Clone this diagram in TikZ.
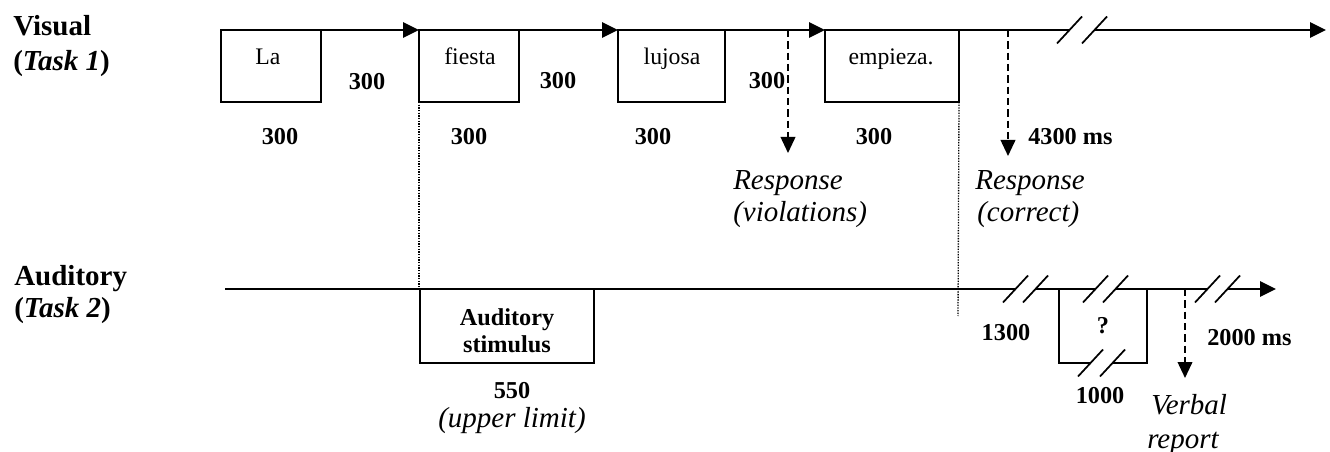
\documentclass[tikz,border=0pt]{standalone}
\usepackage{fontspec}
\setmainfont{Liberation Serif}
\usetikzlibrary{arrows.meta,calc}
\begin{document}
\begin{tikzpicture}[x=0.75pt,y=-0.75pt,
  tl/.style={line width=1.5pt},
  tlarrow/.style={line width=1.5pt,-{Triangle[length=12pt,width=11.5pt]}},
  dasharrow/.style={line width=1.3pt,dash pattern=on 5.5pt off 3pt,-{Triangle[length=12pt,width=11pt]}},
  dotline/.style={line width=1pt,dash pattern=on 1pt off 1pt},
  wordbox/.style={draw,line width=1.5pt,anchor=north west,minimum height=54pt,inner sep=0pt,outer sep=0pt},
  word/.style={font=\fontsize{17.8}{20}\selectfont,anchor=base,inner sep=0pt},
  num/.style={font=\fontsize{18.2}{20}\selectfont\bfseries,anchor=base,inner sep=0pt},
  note/.style={font=\fontsize{21.75}{24}\selectfont\itshape,anchor=base west,inner sep=0pt},
  head/.style={font=\fontsize{21.75}{26}\selectfont\bfseries,anchor=base west,inner sep=0pt},
  brk/.style={line width=1.3pt},
]
\useasboundingbox (0,0) rectangle (1330,452);

% headers
\node[head] (vis) at (13,36) {Visual};
\node[head] (task1) at (13,71) {(\textit{Task 1})};
\node[head] (aud) at (14,285) {Auditory};
\node[head] (task2) at (14,317) {(\textit{Task 2})};

% visual boxes
\node[wordbox,minimum width=75pt] (La) at (221,30) {};
\node[wordbox,minimum width=75pt] (fiesta) at (419,30) {};
\node[wordbox,minimum width=80.25pt] (lujosa) at (618,30) {};
\node[wordbox,minimum width=100.5pt] (empieza) at (825,30) {};

\node[word] (tLa) at (268,65) {La};
\node[word] (tfiesta) at (470,65) {fiesta};
\node[word] (tlujosa) at (672,65) {lujosa};
\node[word] (tempieza) at (891,65) {empieza.};

% visual timeline
\draw[tlarrow] (La.north east) -- (fiesta.north west);
\draw[tlarrow] (fiesta.north east) -- (lujosa.north west);
\draw[tlarrow] (lujosa.north east) -- (empieza.north west);
\coordinate (vb1) at (1069.5,30);
\coordinate (vb2) at (1094.5,30);
\coordinate (vend) at (1326,30);
\draw[tl] (empieza.north east) -- (vb1);
\draw[tlarrow] (vb2) -- (vend);
\foreach \c in {vb1,vb2} {
  \draw[brk] ($(\c)+(-12.5,13.5)$) -- ($(\c)+(12.5,-13.5)$);
}

% visual labels
\node[num] (g1) at (367,90) {300};
\node[num] (g2) at (558,89) {300};
\node[num] (g3) at (767,89) {300};
\node[num] (d1) at (280,145) {300};
\node[num] (d2) at (469,145) {300};
\node[num] (d3) at (653,145) {300};
\node[num] (d4) at (874,145) {300};
\node[num,anchor=base west] (t4300) at (1028,145) {4300 ms};

% responses
\coordinate (r1s) at (788,30);
\coordinate (r1e) at (788,153);
\coordinate (r2s) at (1008,30);
\coordinate (r2e) at (1008,156);
\draw[dasharrow] (r1s) -- (r1e);
\draw[dasharrow] (r2s) -- (r2e);
\node[note] (resp1) at (733,190) {Response};
\node[note] (viol) at (733,222) {(violations)};
\node[note] (resp2) at (975,190) {Response};
\node[note] (corr) at (977,222) {(correct)};

% auditory timeline
\coordinate (a0) at (225,289);
\coordinate (aend) at (1276,289);
\draw[tlarrow] (a0) -- (aend);
\node[wordbox,minimum width=130.5pt,minimum height=55.5pt] (stim) at (420,289) {};
\node[num] (tAud) at (507,325) {Auditory};
\node[num] (tStim) at (507,352) {stimulus};
\node[num] (n550) at (512,398) {550};
\node[note,anchor=base] (upper) at (512,427) {(upper limit)};

\node[wordbox,minimum width=66pt,minimum height=55.5pt,font=\fontsize{18.2}{20}\selectfont\bfseries] (qbox) at (1059,289) {?};

% breaks on auditory line and ? box
\foreach \xa/\xb/\yy in {1015.5/1035.5/289, 1095.5/1115.5/289, 1090.5/1112.5/363, 1207.5/1227.5/289} {
  \fill[white] (\xa,\yy-3) rectangle (\xb,\yy+3);
  \draw[brk] (\xa-12.5,\yy+13.5) -- (\xa+12.5,\yy-13.5);
  \draw[brk] (\xb-12.5,\yy+13.5) -- (\xb+12.5,\yy-13.5);
}

% dotted guides
\coordinate (d2end) at (958,316);
\draw[dotline] (fiesta.south west) -- (fiesta.south west |- stim.north);
\draw[dotline] (empieza.south east) -- (d2end);

% auditory labels
\node[num] (n1300) at (1006,340) {1300};
\node[num] (n1000) at (1100,403) {1000};
\node[num,anchor=base west] (n2000) at (1207,345) {2000 ms};

\coordinate (vrs) at (1185,289);
\coordinate (vre) at (1185,378);
\draw[dasharrow] (vrs) -- (vre);
\node[note] (verbal) at (1151,414) {Verbal};
\node[note] (report) at (1147,448) {report};
\end{tikzpicture}
\end{document}
